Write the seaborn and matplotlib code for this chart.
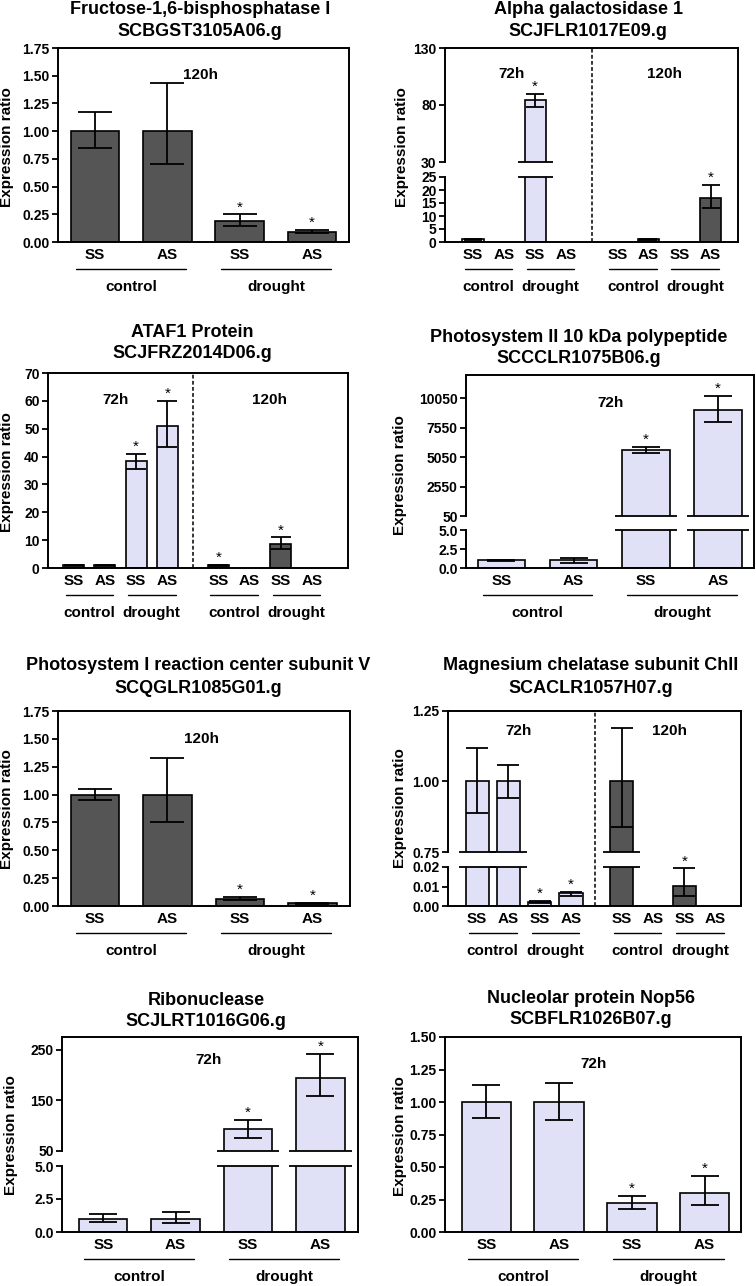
import numpy as np
import pandas as pd
import seaborn as sns
import matplotlib.pyplot as plt
from matplotlib.ticker import FormatStrFormatter

sns.set_style("ticks", {"axes.edgecolor": "black", "xtick.color": "black", "ytick.color": "black",
                        "text.color": "black", "axes.labelcolor": "black"})
plt.rcParams["font.family"] = ["Liberation Sans", "DejaVu Sans"]
plt.rcParams["font.weight"] = "bold"

W, H = 756, 1286
nan = np.nan
palette = {"72h": "#dcdcfa", "120h": "#555555"}

# shared category labels
geno4 = ["SS", "AS", "SS", "AS"]
cond4 = ["control", "control", "drought", "drought"]
geno8 = geno4 + geno4
cond8 = cond4 + cond4
time8 = ["72h"] * 4 + ["120h"] * 4

# Fructose-1,6-bisphosphatase I
fbp_title = ["Fructose-1,6-bisphosphatase I", "SCBGST3105A06.g"]
fbp_time = ["120h"] * 4
fbp_mean = [1.0, 1.0, 0.19, 0.09]
fbp_lo = [0.85, 0.70, 0.14, 0.08]
fbp_hi = [1.17, 1.43, 0.25, 0.11]
fbp_star = [0, 0, 1, 1]

# Alpha galactosidase 1
aga_title = ["Alpha galactosidase 1", "SCJFLR1017E09.g"]
aga_mean = [1.0, nan, 84, nan, nan, 1.0, nan, 17]
aga_lo = [0.8, nan, 78, nan, nan, 0.8, nan, 13]
aga_hi = [1.3, nan, 90, nan, nan, 1.3, nan, 22]
aga_star = [0, 0, 1, 0, 0, 0, 0, 1]

# ATAF1 Protein
ataf_title = ["ATAF1 Protein", "SCJFRZ2014D06.g"]
ataf_mean = [1.0, 1.0, 38.3, 51.0, 1.0, nan, 8.7, nan]
ataf_lo = [0.8, 0.8, 35.5, 43.5, 0.85, nan, 6.8, nan]
ataf_hi = [1.2, 1.2, 41.0, 60.0, 1.15, nan, 11.0, nan]
ataf_star = [0, 0, 1, 1, 1, 0, 1, 0]

# Photosystem II 10 kDa polypeptide
psii_title = ["Photosystem II 10 kDa polypeptide", "SCCCLR1075B06.g"]
psii_time = ["72h"] * 4
psii_mean = [1.0, 1.0, 5620, 9100]
psii_lo = [0.95, 0.7, 5370, 8010]
psii_hi = [1.05, 1.35, 5910, 10250]
psii_star = [0, 0, 1, 1]

# Photosystem I reaction center subunit V
psi_title = ["Photosystem I reaction center subunit V", "SCQGLR1085G01.g"]
psi_time = ["120h"] * 4
psi_mean = [1.0, 1.0, 0.065, 0.025]
psi_lo = [0.95, 0.75, 0.05, 0.02]
psi_hi = [1.05, 1.33, 0.085, 0.03]
psi_star = [0, 0, 1, 1]

# Magnesium chelatase subunit ChlI
mgc_title = ["Magnesium chelatase subunit ChlI", "SCACLR1057H07.g"]
mgc_mean = [1.0, 1.0, 0.0022, 0.0065, 1.0, nan, 0.0103, nan]
mgc_lo = [0.89, 0.942, 0.0017, 0.0053, 0.84, nan, 0.0052, nan]
mgc_hi = [1.12, 1.058, 0.0027, 0.0074, 1.19, nan, 0.0193, nan]
mgc_star = [0, 0, 1, 1, 0, 0, 1, 0]

# Ribonuclease
rn_title = ["Ribonuclease", "SCJLRT1016G06.g"]
rn_time = ["72h"] * 4
rn_mean = [1.0, 1.0, 93, 195]
rn_lo = [0.72, 0.68, 76, 158]
rn_hi = [1.4, 1.55, 111, 241]
rn_star = [0, 0, 1, 1]

# Nucleolar protein Nop56
nop_title = ["Nucleolar protein Nop56", "SCBFLR1026B07.g"]
nop_time = ["72h"] * 4
nop_mean = [1.0, 1.0, 0.225, 0.30]
nop_lo = [0.88, 0.865, 0.18, 0.21]
nop_hi = [1.13, 1.15, 0.28, 0.43]
nop_star = [0, 0, 1, 1]

fig = plt.figure(figsize=(W / 100, H / 100), dpi=100)


def rect(l, t, r, b):
    return [l / W, 1 - b / H, (r - l) / W, (b - t) / H]


def draw_bars(ax, df, width, capsize):
    sns.barplot(data=df, x="pos", y="mean", hue="time", palette=palette, native_scale=True,
                orient="x", dodge=False, width=width, errorbar=None, edgecolor="black",
                linewidth=1.2, legend=False, ax=ax)
    ok = df.dropna(subset=["mean"])
    ax.errorbar(ok["pos"], ok["mean"], yerr=[ok["mean"] - ok["lo"], ok["hi"] - ok["mean"]],
                fmt="none", ecolor="black", elinewidth=1.3, capsize=capsize, capthick=1.3, zorder=5)
    ax.set_xlabel("")
    ax.set_ylabel("")
    ax.tick_params(axis="y", labelsize=10, length=4, width=1.3, pad=2)


def panel(title, tx, ty, ylab, box, xlim, time, geno, cond, mean, lo, hi, star, width, capsize,
          ylim, yticks, yfmt, gap=0.0, split=None, ylim2=None, yticks2=None, yfmt2=None,
          divider=None, labels=(), ext_px=7):
    n = len(mean)
    pos = [i + (gap if i >= 4 else 0) for i in range(n)]
    df = pd.DataFrame(dict(pos=pos, time=time, geno=geno, cond=cond, mean=mean, lo=lo, hi=hi, star=star))
    l, t, r, b = box
    ppu = (r - l) / (xlim[1] - xlim[0])
    ext = ext_px / ppu

    if split is None:
        low = fig.add_axes(rect(l, t, r, b))
        up = low
        h_low = b - t
        draw_bars(low, df, width, capsize)
        axes = [low]
    else:
        bg = fig.add_axes(rect(l, t, r, b))
        bg.set_xlim(xlim)
        bg.set_xticks([])
        bg.set_yticks([])
        for s in ["top", "left", "bottom"]:
            bg.spines[s].set_visible(False)
        bg.spines["right"].set_linewidth(1.4)
        if divider is not None:
            bg.axvline(divider, color="black", lw=1.1, ls=(0, (2.5, 1.5)))
        up = fig.add_axes(rect(l, t, r, split[0]))
        low = fig.add_axes(rect(l, split[1], r, b))
        h_low = b - split[1]
        draw_bars(low, df, width, capsize)
        # only the bars that reach the upper segment are drawn there
        df_up = df.copy()
        df_up.loc[df_up["mean"] <= ylim2[0], ["mean", "lo", "hi"]] = nan
        draw_bars(up, df_up, width, capsize)
        axes = [up, low]

    for ax in axes:
        ax.set_xlim(xlim)
        for s in ax.spines.values():
            s.set_linewidth(1.4)

    low.set_ylim(ylim)
    low.set_yticks(yticks)
    low.yaxis.set_major_formatter(FormatStrFormatter(yfmt))
    low.set_xticks(df["pos"])
    low.set_xticklabels(df["geno"])
    low.tick_params(axis="x", length=0, pad=4, labelsize=11)

    if split is None:
        if divider is not None:
            low.axvline(divider, color="black", lw=1.1, ls=(0, (2.5, 1.5)))
    else:
        up.set_ylim(ylim2)
        up.set_yticks(yticks2)
        up.yaxis.set_major_formatter(FormatStrFormatter(yfmt2))
        up.tick_params(axis="x", bottom=False, labelbottom=False)
        up.spines["bottom"].set_visible(False)
        up.spines["right"].set_visible(False)
        low.spines["top"].set_visible(False)
        low.spines["right"].set_visible(False)
        for a in (up, low):
            a.patch.set_visible(False)
        # break marks on the bars that cross the gap
        tall = df[df["mean"] > ylim[1]]
        low.hlines([ylim[1]] * len(tall), tall["pos"] - width / 2 - ext, tall["pos"] + width / 2 + ext,
                   color="black", lw=1.3, clip_on=False, zorder=6)
        tall = df[df["mean"] > ylim2[0]]
        up.hlines([ylim2[0]] * len(tall), tall["pos"] - width / 2 - ext, tall["pos"] + width / 2 + ext,
                  color="black", lw=1.3, clip_on=False, zorder=6)

    # significance stars
    for _, row in df[df["star"] == 1].iterrows():
        a = up if (split is not None and row["hi"] > ylim[1]) else low
        a.annotate("*", xy=(row["pos"], row["hi"]), xytext=(0, 0), textcoords="offset points",
                   ha="center", va="bottom", fontsize=11, fontweight="normal")

    for txt, x, y in labels:
        up.text(x, y, txt, ha="center", va="center", fontsize=11)

    # group underlines and labels
    trans = low.get_xaxis_transform()
    for (_, c), g in df.groupby(["time", "cond"], sort=False):
        x0, x1 = g["pos"].min(), g["pos"].max()
        low.plot([x0 - 0.26, x1 + 0.26], [-27 / h_low] * 2, transform=trans, color="black",
                 lw=1.0, clip_on=False)
        low.text((x0 + x1) / 2, -45 / h_low, c, transform=trans, ha="center", va="center", fontsize=11)

    fig.text(tx / W, 1 - ty[0] / H, title[0], ha="center", va="baseline", fontsize=13)
    fig.text(tx / W, 1 - ty[1] / H, title[1], ha="center", va="baseline", fontsize=13)
    fig.text(ylab[0] / W, 1 - ylab[1] / H, "Expression ratio", rotation=90, ha="center",
             va="center", fontsize=11)


panel(fbp_title, 200, (14, 36), (7, 147), (58, 48, 349, 242), (-0.51, 3.51), fbp_time, geno4, cond4,
      fbp_mean, fbp_lo, fbp_hi, fbp_star, 0.67, 12, (0, 1.75),
      [0, 0.25, 0.5, 0.75, 1.0, 1.25, 1.5, 1.75], "%.2f", labels=[("120h", 1.46, 1.51)])

panel(aga_title, 588, (14, 36), (402, 147), (445, 48, 738, 242), (-0.9, 8.52), time8, geno8, cond8,
      aga_mean, aga_lo, aga_hi, aga_star, 0.68, 6.5, (0, 25), [0, 5, 10, 15, 20, 25], "%d",
      gap=0.64, split=(162, 177), ylim2=(30, 130), yticks2=[30, 80, 130], yfmt2="%d",
      divider=3.83, labels=[("72h", 1.25, 107), ("120h", 6.16, 107)])

panel(ataf_title, 192, (337, 358), (7, 472), (48, 373, 348, 568), (-0.82, 8.78), time8, geno8, cond8,
      ataf_mean, ataf_lo, ataf_hi, ataf_star, 0.67, 7.5, (0, 70), [0, 10, 20, 30, 40, 50, 60, 70], "%d",
      gap=0.63, divider=3.83, labels=[("72h", 1.33, 60.4), ("120h", 6.28, 60.4)])

panel(psii_title, 579, (342, 363), (400, 475), (466, 375, 754, 568), (-0.49, 3.5), psii_time, geno4,
      cond4, psii_mean, psii_lo, psii_hi, psii_star, 0.66, 10, (0, 5), [0, 2.5, 5], "%.1f",
      split=(516, 530), ylim2=(50, 12040), yticks2=[50, 2550, 5050, 7550, 10050], yfmt2="%d",
      labels=[("72h", 1.51, 9680)])

panel(psi_title, 198, (670, 693), (7, 809), (58, 711, 350, 906), (-0.51, 3.52), psi_time, geno4, cond4,
      psi_mean, psi_lo, psi_hi, psi_star, 0.67, 12, (0, 1.75),
      [0, 0.25, 0.5, 0.75, 1.0, 1.25, 1.5, 1.75], "%.2f", labels=[("120h", 1.47, 1.50)])

panel(mgc_title, 591, (670, 693), (400, 808), (448, 711, 741, 906), (-0.93, 8.43), time8, geno8, cond8,
      mgc_mean, mgc_lo, mgc_hi, mgc_star, 0.74, 8, (0, 0.02), [0, 0.01, 0.02], "%.2f",
      gap=0.62, split=(852, 867), ylim2=(0.75, 1.25), yticks2=[0.75, 1.0, 1.25], yfmt2="%.2f",
      divider=3.77, labels=[("72h", 1.31, 1.18), ("120h", 6.15, 1.18)])

panel(rn_title, 206, (1005, 1026), (11, 1135), (62, 1037, 358, 1232), (-0.57, 3.52), rn_time, geno4,
      cond4, rn_mean, rn_lo, rn_hi, rn_star, 0.67, 10, (0, 5), [0, 2.5, 5], "%.1f",
      split=(1151, 1166), ylim2=(50, 275), yticks2=[50, 150, 250], yfmt2="%d",
      labels=[("72h", 1.45, 230)])

panel(nop_title, 591, (1003, 1024), (400, 1136), (445, 1037, 741, 1232), (-0.57, 3.5), nop_time, geno4,
      cond4, nop_mean, nop_lo, nop_hi, nop_star, 0.68, 10, (0, 1.5),
      [0, 0.25, 0.5, 0.75, 1.0, 1.25, 1.5], "%.2f", labels=[("72h", 1.47, 1.295)])

fig.savefig("out.png", dpi=100)
